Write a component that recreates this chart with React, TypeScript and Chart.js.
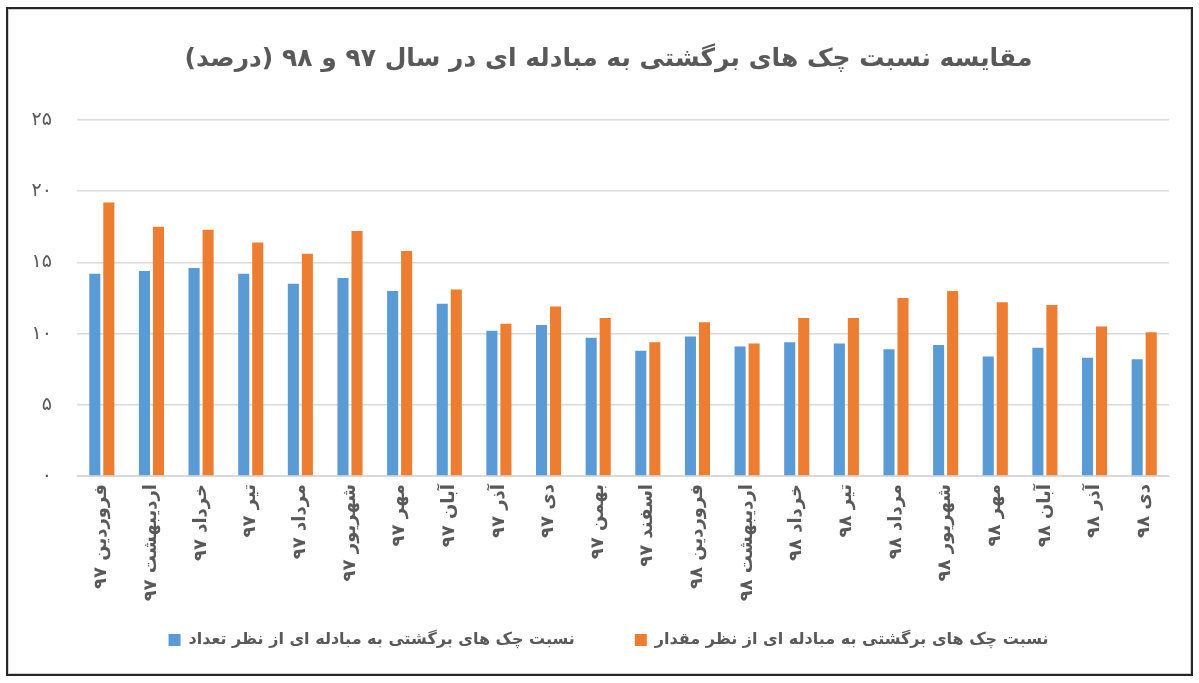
import React, { useEffect, useRef } from 'react';
import { Chart, registerables } from 'chart.js';

Chart.register(...registerables);

const months: string[] = [
  'فروردین ۹۷', 'اردیبهشت ۹۷', 'خرداد ۹۷', 'تیر ۹۷', 'مرداد ۹۷', 'شهریور ۹۷',
  'مهر ۹۷', 'آبان ۹۷', 'آذر ۹۷', 'دی ۹۷', 'بهمن ۹۷', 'اسفند ۹۷',
  'فروردین ۹۸', 'اردیبهشت ۹۸', 'خرداد ۹۸', 'تیر ۹۸', 'مرداد ۹۸', 'شهریور ۹۸',
  'مهر ۹۸', 'آبان ۹۸', 'آذر ۹۸', 'دی ۹۸',
];

// نسبت از نظر تعداد
const countRatio: number[] = [
  14.2, 14.4, 14.6, 14.2, 13.5, 13.9, 13.0, 12.1, 10.2, 10.6, 9.7, 8.8,
  9.8, 9.1, 9.4, 9.3, 8.9, 9.2, 8.4, 9.0, 8.3, 8.2,
];

// نسبت از نظر مقدار
const amountRatio: number[] = [
  19.2, 17.5, 17.3, 16.4, 15.6, 17.2, 15.8, 13.1, 10.7, 11.9, 11.1, 9.4,
  10.8, 9.3, 11.1, 11.1, 12.5, 13.0, 12.2, 12.0, 10.5, 10.1,
];

const seriesNames: string[] = [
  'نسبت چک های برگشتی به مبادله ای از نظر تعداد',
  'نسبت چک های برگشتی به مبادله ای از نظر مقدار',
];

const titleText = 'مقایسه نسبت چک های برگشتی به مبادله ای در سال ۹۷ و ۹۸ (درصد)';

const faDigits = '۰۱۲۳۴۵۶۷۸۹';
const toFa = (v: number | string) => String(v).replace(/[0-9]/g, d => faDigits[Number(d)]);

const gray = '#595959';
const font = 'DejaVu Sans';

const App: React.FC = () => {
  const canvasRef = useRef<HTMLCanvasElement>(null);
  const chartRef = useRef<Chart>();

  useEffect(() => {
    document.body.style.margin = '0';
    if (!canvasRef.current) return;
    const ctx = canvasRef.current.getContext('2d');
    if (!ctx) return;

    chartRef.current = new Chart(ctx, {
      type: 'bar',
      data: {
        labels: months,
        datasets: [
          {
            label: seriesNames[0],
            data: countRatio,
            backgroundColor: '#5b9bd5',
            barPercentage: 0.79,
            categoryPercentage: 0.565,
          },
          {
            label: seriesNames[1],
            data: amountRatio,
            backgroundColor: '#ed7d31',
            barPercentage: 0.79,
            categoryPercentage: 0.565,
          },
        ],
      },
      options: {
        responsive: false,
        animation: false,
        layout: { padding: { left: 48, right: 30, top: 0, bottom: 0 } },
        plugins: {
          title: {
            display: true,
            text: titleText,
            color: gray,
            font: { family: font, size: 25, weight: 'bold' },
            padding: { top: 44, bottom: 46 },
          },
          legend: {
            position: 'bottom',
            labels: {
              color: gray,
              boxWidth: 12,
              boxHeight: 12,
              padding: 60,
              font: { family: font, size: 16, weight: 'bold' },
            },
          },
          tooltip: { enabled: false },
        },
        scales: {
          x: {
            grid: { display: false, drawTicks: false },
            border: { color: '#d9d9d9', width: 1 },
            ticks: {
              color: gray,
              minRotation: 90,
              maxRotation: 90,
              autoSkip: false,
              padding: 8,
              font: { family: font, size: 18, weight: 'bold' },
            },
            afterFit: (scale: any) => {
              scale.height = 96;
              // let the long rotated month names run below the axis box
              scale._computeLabelArea = () => undefined;
            },
          },
          y: {
            min: 0,
            max: 25,
            grid: { color: '#d9d9d9', lineWidth: 1.5, drawTicks: false },
            border: { display: false },
            ticks: {
              stepSize: 5,
              color: gray,
              padding: 25,
              font: { family: font, size: 19 },
              callback: (v: any) => toFa(v),
            },
            afterFit: (scale: any) => {
              scale.width = 29;
              scale._computeLabelArea = () => undefined;
            },
          },
        },
      },
      plugins: [
        {
          id: 'legendHeight',
          beforeInit(chart: any) {
            const fit = chart.legend.fit;
            chart.legend.fit = function () {
              fit.call(this);
              this.height = 111;
            };
          },
        },
      ],
    } as any);

    return () => {
      chartRef.current?.destroy();
    };
  }, []);

  return (
    <div style={{ position: 'relative', width: 1199, height: 683, background: '#fff' }}>
      <div
        style={{
          position: 'absolute',
          left: 6,
          top: 7,
          width: 1187,
          height: 669,
          boxSizing: 'border-box',
          border: '2px solid #262626',
          boxShadow: 'inset 0 0 0 1px #d0d0d0',
        }}
      />
      <canvas
        ref={canvasRef}
        width={1199}
        height={683}
        dir="rtl"
        style={{ position: 'absolute', left: 0, top: 0 }}
      />
    </div>
  );
};

export default App;
